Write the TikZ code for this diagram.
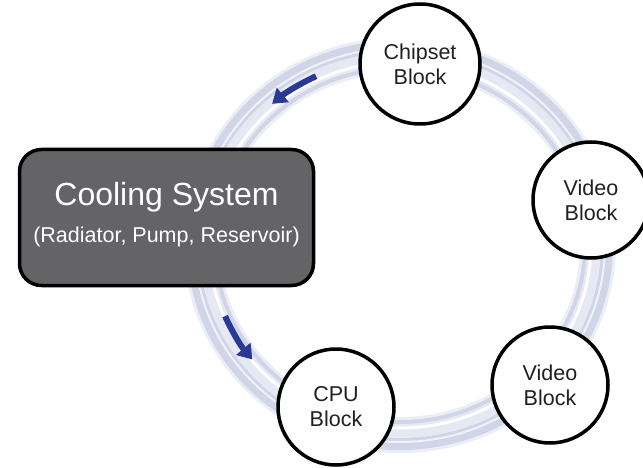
\documentclass[tikz,border=0pt]{standalone}
\usepackage{fontspec}
\setmainfont{Liberation Sans}
\usetikzlibrary{arrows.meta}
\definecolor{boxgray}{RGB}{100,100,102}
\definecolor{flowblue}{RGB}{43,57,150}
\definecolor{tubehalo}{RGB}{236,238,246}
\definecolor{tubeedge}{RGB}{208,213,231}
\definecolor{tubemid}{RGB}{230,232,243}
\definecolor{labelgray}{RGB}{35,31,32}
\tikzset{
	block/.style = {draw, circle, fill = white, line width = 3.5pt, minimum size = 116pt, inner sep = 0pt, align = center, text = labelgray, font = \fontsize{21.5}{25}\selectfont},
	cooler/.style = {draw, rounded corners = 22pt, fill = boxgray, line width = 3.5pt, minimum width = 294pt, minimum height = 136pt},
	flow/.style = {draw = flowblue, line width = 6pt, -{Triangle[length = 14pt, width = 18pt]}}
}

\begin{document}
\begin{tikzpicture}[x = 1pt, y = -1pt]
	\useasboundingbox (0,0) rectangle (643,468);
	\draw[tubehalo, line width = 36pt] (400,245) ellipse [x radius = 198, y radius = 190];
	\draw[tubeedge, line width = 30pt] (400,245) ellipse [x radius = 198, y radius = 190];
	\draw[tubemid, line width = 14pt] (400,245) ellipse [x radius = 194, y radius = 186];
	\draw[white, line width = 3pt] (400,245) ellipse [x radius = 191, y radius = 183];
	\draw[white, opacity = 0.7, line width = 2pt] (400,245) ellipse [x radius = 205, y radius = 197];
	\draw[flow] (400,245) ++(-115.5:195 and 187) arc [start angle = -115.5, end angle = -131, x radius = 195, y radius = 187];
	\draw[flow] (400,245) ++(157:190 and 182) arc [start angle = 157, end angle = 141, x radius = 190, y radius = 182];
	\node[block, minimum size = 120pt] (chipset) at (420,64) {Chipset\\Block};
	\node[block] (videotop) at (591,200) {Video\\Block};
	\node[block] (videobot) at (550,385) {Video\\Block};
	\node[block] (cpu) at (336,407) {CPU\\Block};
	\node[cooler] (cooler) at (166.5,217.5) {};
	\node[anchor = base, text = white, font = \fontsize{32}{38}\selectfont] (title) at (166.5,205) {Cooling System};
	\node[anchor = base, text = white, font = \fontsize{21.5}{25}\selectfont] (parts) at (166.5,242) {(Radiator, Pump, Reservoir)};
\end{tikzpicture}
\end{document}
